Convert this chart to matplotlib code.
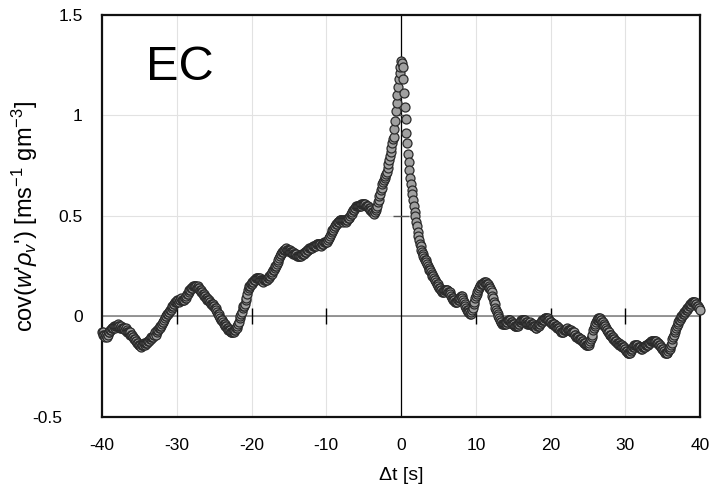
import numpy as np
import matplotlib
matplotlib.use("Agg")
import matplotlib.pyplot as plt
import matplotlib.transforms as mtransforms

# lag axis: 10 Hz samples from -40 s to +40 s
lag = np.round(np.arange(-400, 401) / 10.0, 1)

# covariance of w' and rho_v' for each lag, one row per second
cov = [
    -0.08, -0.08, -0.09, -0.09, -0.10, -0.09, -0.09, -0.10, -0.09, -0.08,   # -40
    -0.08, -0.07, -0.07, -0.06, -0.06, -0.06, -0.05, -0.06, -0.05, -0.05,   # -39
    -0.05, -0.04, -0.05, -0.05, -0.06, -0.06, -0.05, -0.06, -0.06, -0.06,   # -38
    -0.06, -0.07, -0.06, -0.07, -0.08, -0.08, -0.08, -0.09, -0.08, -0.09,   # -37
    -0.09, -0.10, -0.10, -0.11, -0.11, -0.12, -0.12, -0.13, -0.13, -0.14,   # -36
    -0.14, -0.14, -0.15, -0.14, -0.14, -0.14, -0.13, -0.14, -0.13, -0.13,   # -35
    -0.13, -0.12, -0.12, -0.12, -0.11, -0.11, -0.10, -0.10, -0.10, -0.09,   # -34
    -0.09, -0.08, -0.09, -0.08, -0.07, -0.07, -0.06, -0.06, -0.05, -0.05,   # -33
    -0.04, -0.03, -0.03, -0.02, -0.01, 0.00, 0.00, 0.01, 0.01, 0.02,        # -32
    0.02, 0.03, 0.03, 0.04, 0.05, 0.05, 0.06, 0.06, 0.07, 0.07,             # -31
    0.07, 0.08, 0.08, 0.07, 0.08, 0.08, 0.09, 0.08, 0.08, 0.08,             # -30
    0.08, 0.09, 0.09, 0.10, 0.11, 0.11, 0.12, 0.13, 0.13, 0.14,             # -29
    0.14, 0.14, 0.15, 0.15, 0.15, 0.15, 0.15, 0.14, 0.15, 0.14,             # -28
    0.14, 0.13, 0.13, 0.12, 0.12, 0.11, 0.11, 0.10, 0.10, 0.09,             # -27
    0.09, 0.08, 0.08, 0.08, 0.07, 0.07, 0.06, 0.06, 0.06, 0.05,             # -26
    0.05, 0.04, 0.04, 0.03, 0.02, 0.01, 0.01, 0.00, -0.01, -0.02,           # -25
    -0.02, -0.02, -0.03, -0.04, -0.04, -0.05, -0.05, -0.06, -0.06, -0.07,   # -24
    -0.07, -0.07, -0.08, -0.08, -0.08, -0.08, -0.08, -0.07, -0.07, -0.06,   # -23
    -0.06, -0.05, -0.04, -0.03, -0.01, 0.00, 0.01, 0.02, 0.04, 0.05,        # -22
    0.05, 0.06, 0.08, 0.09, 0.11, 0.13, 0.14, 0.15, 0.15, 0.16,             # -21
    0.16, 0.17, 0.17, 0.18, 0.18, 0.18, 0.19, 0.19, 0.19, 0.19,             # -20
    0.19, 0.19, 0.18, 0.18, 0.18, 0.18, 0.17, 0.18, 0.18, 0.18,             # -19
    0.18, 0.18, 0.19, 0.19, 0.20, 0.20, 0.21, 0.21, 0.22, 0.23,             # -18
    0.23, 0.24, 0.25, 0.25, 0.26, 0.27, 0.28, 0.29, 0.30, 0.31,             # -17
    0.31, 0.32, 0.32, 0.33, 0.33, 0.33, 0.34, 0.33, 0.33, 0.33,             # -16
    0.33, 0.33, 0.32, 0.32, 0.32, 0.32, 0.31, 0.31, 0.31, 0.31,             # -15
    0.31, 0.30, 0.30, 0.30, 0.30, 0.30, 0.30, 0.31, 0.31, 0.31,             # -14
    0.31, 0.32, 0.32, 0.32, 0.33, 0.33, 0.33, 0.34, 0.34, 0.34,             # -13
    0.34, 0.34, 0.35, 0.35, 0.35, 0.35, 0.35, 0.36, 0.36, 0.36,             # -12
    0.36, 0.36, 0.36, 0.35, 0.36, 0.36, 0.36, 0.37, 0.37, 0.37,             # -11
    0.37, 0.37, 0.38, 0.39, 0.39, 0.40, 0.41, 0.42, 0.43, 0.43,             # -10
    0.44, 0.45, 0.45, 0.46, 0.46, 0.47, 0.47, 0.47, 0.48, 0.48,             # -9
    0.48, 0.48, 0.47, 0.48, 0.48, 0.48, 0.47, 0.48, 0.48, 0.49,             # -8
    0.49, 0.49, 0.50, 0.51, 0.51, 0.52, 0.53, 0.53, 0.54, 0.54,             # -7
    0.55, 0.55, 0.55, 0.55, 0.55, 0.55, 0.55, 0.56, 0.56, 0.56,             # -6
    0.56, 0.56, 0.56, 0.55, 0.55, 0.55, 0.55, 0.54, 0.54, 0.53,             # -5
    0.53, 0.52, 0.52, 0.52, 0.51, 0.52, 0.53, 0.54, 0.55, 0.57,             # -4
    0.58, 0.60, 0.61, 0.63, 0.64, 0.66, 0.67, 0.68, 0.69, 0.70,             # -3
    0.71, 0.72, 0.74, 0.76, 0.78, 0.80, 0.82, 0.84, 0.86, 0.88,             # -2
    0.89, 0.93, 0.97, 1.02, 1.06, 1.10, 1.14, 1.18, 1.21, 1.24,             # -1
    1.27, 1.26, 1.24, 1.18, 1.11, 1.04, 0.98, 0.91, 0.86, 0.81,             # 0
    0.77, 0.73, 0.69, 0.66, 0.63, 0.61, 0.58, 0.55, 0.52, 0.50,             # 1
    0.47, 0.45, 0.42, 0.40, 0.38, 0.36, 0.35, 0.33, 0.32, 0.31,             # 2
    0.30, 0.29, 0.28, 0.28, 0.27, 0.26, 0.25, 0.24, 0.23, 0.23,             # 3
    0.22, 0.21, 0.20, 0.20, 0.19, 0.18, 0.18, 0.17, 0.16, 0.16,             # 4
    0.15, 0.14, 0.14, 0.13, 0.13, 0.12, 0.12, 0.12, 0.13, 0.13,             # 5
    0.13, 0.13, 0.13, 0.12, 0.12, 0.12, 0.11, 0.10, 0.09, 0.09,             # 6
    0.08, 0.08, 0.07, 0.07, 0.07, 0.07, 0.08, 0.08, 0.09, 0.09,             # 7
    0.10, 0.10, 0.09, 0.08, 0.07, 0.06, 0.05, 0.04, 0.03, 0.03,             # 8
    0.02, 0.02, 0.01, 0.01, 0.02, 0.03, 0.04, 0.06, 0.07, 0.09,             # 9
    0.10, 0.11, 0.12, 0.13, 0.14, 0.15, 0.15, 0.16, 0.16, 0.16,             # 10
    0.16, 0.17, 0.17, 0.17, 0.16, 0.16, 0.16, 0.15, 0.14, 0.14,             # 11
    0.13, 0.12, 0.10, 0.09, 0.07, 0.06, 0.04, 0.03, 0.02, 0.01,             # 12
    0.00, -0.01, -0.02, -0.03, -0.03, -0.04, -0.04, -0.04, -0.04, -0.04,    # 13
    -0.04, -0.03, -0.03, -0.02, -0.02, -0.02, -0.02, -0.03, -0.03, -0.04,   # 14
    -0.04, -0.04, -0.05, -0.05, -0.05, -0.05, -0.05, -0.04, -0.04, -0.03,   # 15
    -0.03, -0.02, -0.02, -0.02, -0.02, -0.02, -0.02, -0.03, -0.03, -0.04,   # 16
    -0.04, -0.04, -0.04, -0.03, -0.04, -0.04, -0.04, -0.05, -0.05, -0.05,   # 17
    -0.06, -0.06, -0.05, -0.05, -0.05, -0.04, -0.04, -0.03, -0.03, -0.02,   # 18
    -0.02, -0.02, -0.01, -0.01, -0.01, -0.01, -0.01, -0.02, -0.02, -0.03,   # 19
    -0.03, -0.03, -0.04, -0.04, -0.04, -0.04, -0.05, -0.05, -0.05, -0.06,   # 20
    -0.06, -0.06, -0.07, -0.07, -0.08, -0.08, -0.08, -0.08, -0.07, -0.07,   # 21
    -0.07, -0.07, -0.06, -0.07, -0.07, -0.07, -0.07, -0.07, -0.08, -0.08,   # 22
    -0.08, -0.08, -0.09, -0.09, -0.10, -0.10, -0.10, -0.10, -0.11, -0.11,   # 23
    -0.11, -0.11, -0.12, -0.12, -0.13, -0.13, -0.13, -0.14, -0.14, -0.14,   # 24
    -0.14, -0.14, -0.13, -0.12, -0.11, -0.10, -0.09, -0.07, -0.06, -0.05,   # 25
    -0.04, -0.03, -0.02, -0.02, -0.01, -0.01, -0.01, -0.02, -0.02, -0.03,   # 26
    -0.03, -0.04, -0.05, -0.05, -0.06, -0.07, -0.07, -0.08, -0.08, -0.09,   # 27
    -0.09, -0.09, -0.10, -0.10, -0.11, -0.11, -0.12, -0.12, -0.12, -0.13,   # 28
    -0.13, -0.13, -0.14, -0.14, -0.14, -0.14, -0.15, -0.15, -0.15, -0.16,   # 29
    -0.16, -0.17, -0.17, -0.18, -0.18, -0.18, -0.18, -0.17, -0.16, -0.16,   # 30
    -0.15, -0.15, -0.14, -0.14, -0.14, -0.14, -0.14, -0.15, -0.15, -0.15,   # 31
    -0.15, -0.16, -0.16, -0.15, -0.15, -0.15, -0.15, -0.14, -0.14, -0.14,   # 32
    -0.14, -0.13, -0.13, -0.13, -0.12, -0.12, -0.12, -0.12, -0.12, -0.12,   # 33
    -0.12, -0.12, -0.13, -0.13, -0.13, -0.14, -0.14, -0.15, -0.15, -0.16,   # 34
    -0.16, -0.17, -0.17, -0.18, -0.18, -0.18, -0.18, -0.17, -0.16, -0.16,   # 35
    -0.15, -0.14, -0.13, -0.11, -0.10, -0.09, -0.08, -0.07, -0.06, -0.05,   # 36
    -0.04, -0.03, -0.02, -0.02, -0.01, 0.00, 0.00, 0.01, 0.01, 0.02,        # 37
    0.02, 0.03, 0.03, 0.04, 0.04, 0.05, 0.05, 0.06, 0.06, 0.07,             # 38
    0.07, 0.07, 0.07, 0.07, 0.06, 0.06, 0.05, 0.05, 0.04, 0.04,             # 39
    0.03,                                                                   # 40
]

xticks = [-40, -30, -20, -10, 0, 10, 20, 30, 40]
yticks = [-0.5, 0, 0.5, 1, 1.5]

plt.rcParams['font.family'] = ['Liberation Sans', 'DejaVu Sans']
plt.rcParams['mathtext.fontset'] = 'custom'
plt.rcParams['mathtext.rm'] = 'Liberation Sans'
plt.rcParams['mathtext.it'] = 'Liberation Sans:italic'

fig = plt.figure(figsize=(7.13, 4.94), dpi=100)
ax = fig.add_axes([0.143, 0.156, 0.839, 0.814])

ax.set_xlim(-40, 40)
ax.set_ylim(-0.5, 1.5)
ax.set_xticks(xticks)
ax.set_yticks(yticks)
ax.set_xticklabels([str(t) for t in xticks])
ax.set_yticklabels(["-0.5", "0", "0.5", "1", "1.5"])
ax.tick_params(length=0, labelsize=12.5)
ax.tick_params(axis='x', pad=15)
ax.tick_params(axis='y', pad=14)

ax.grid(True, color='#e2e2e2', linewidth=0.8)
ax.set_axisbelow(True)
for sp in ax.spines.values():
    sp.set_linewidth(1.6)
    sp.set_color('#111111')

# axis lines through the origin with small cross ticks
ax.axhline(0, color='#7a7a7a', linewidth=1.1, zorder=1)
ax.axvline(0, color='black', linewidth=0.9, zorder=1)
ax.plot([t for t in xticks if t not in (-40, 0, 40)], [0] * 6, linestyle='none',
        marker='|', markersize=11, markeredgewidth=1.0, color='black', zorder=1)
ax.plot([0, 0], [0.5, 1.0], linestyle='none', marker='_', markersize=11,
        markeredgewidth=1.0, color='#555555', zorder=1)

ax.scatter(lag, cov, s=42, facecolor='#a0a0a0', edgecolor='#2a2a2a',
           linewidths=0.9, zorder=3, clip_on=False)

ax.text(0.074, 0.868, "EC", transform=ax.transAxes, fontsize=35,
        va='center', ha='left')

ax.set_xlabel("Δt [s]", fontsize=14, labelpad=10)
ax.set_ylabel(r"cov($w$'$\rho_v$') [ms$^{-1}$ gm$^{-3}$]", fontsize=17)
ax.yaxis.set_label_coords(-0.103, 0.5)

# bottom label sits a little further left than the others
lbl = ax.get_yticklabels()[0]
lbl.set_transform(lbl.get_transform() + mtransforms.ScaledTranslation(-0.2, 0, fig.dpi_scale_trans))

fig.savefig("out.png", dpi=100)
